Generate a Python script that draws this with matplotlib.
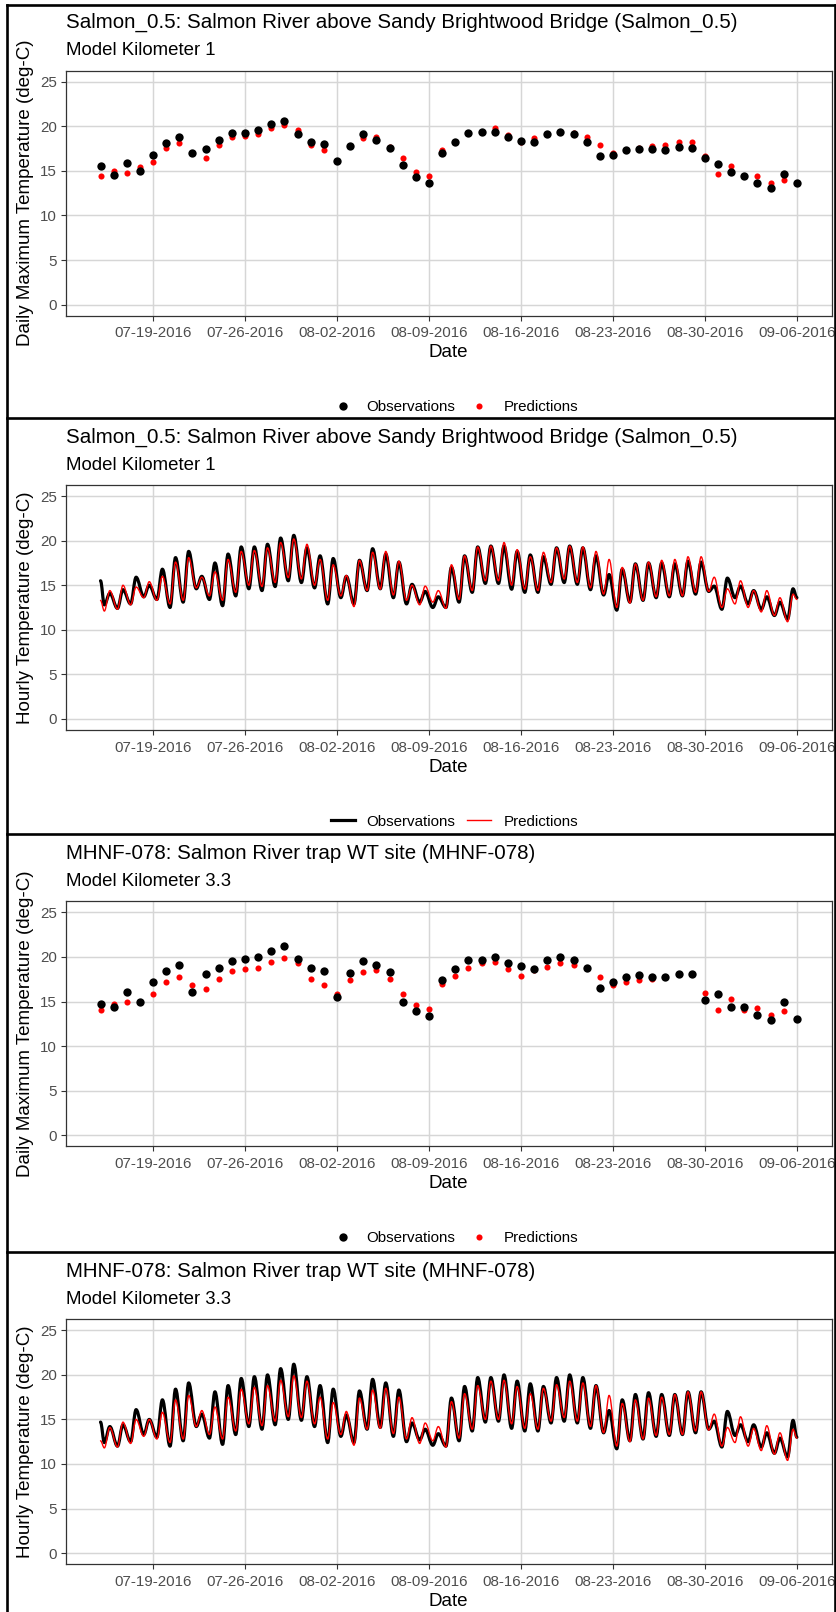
import numpy as np
import pandas as pd
import matplotlib
matplotlib.use("Agg")
import matplotlib.pyplot as plt
import matplotlib.dates as mdates
from matplotlib.path import Path
from matplotlib.patches import PathPatch
from matplotlib.lines import Line2D

plt.rcParams['font.family'] = ['Liberation Sans', 'DejaVu Sans']

# ---------------------------------------------------------------- data
dates = pd.date_range('2016-07-15', '2016-09-06', freq='D')
tick_dates = pd.date_range('2016-07-19', '2016-09-06', freq='7D')
y_ticks = [0, 5, 10, 15, 20, 25]

site_a_title = "Salmon_0.5: Salmon River above Sandy Brightwood Bridge (Salmon_0.5)"
site_a_sub = "Model Kilometer 1"
site_b_title = "MHNF-078: Salmon River trap WT site (MHNF-078)"
site_b_sub = "Model Kilometer 3.3"

# daily maximum temperature, Salmon_0.5
a_daily_obs = [15.5, 14.5, 15.9, 15.0, 16.8, 18.1, 18.8, 17.0, 17.5, 18.5,
               19.3, 19.3, 19.6, 20.3, 20.6, 19.2, 18.3, 18.0, 16.1, 17.8,
               19.1, 18.5, 17.6, 15.7, 14.3, 13.7, 17.0, 18.3, 19.3, 19.4,
               19.4, 18.8, 18.4, 18.2, 19.2, 19.4, 19.2, 18.3, 16.7, 16.8,
               17.4, 17.5, 17.5, 17.4, 17.7, 17.6, 16.4, 15.8, 14.9, 14.4,
               13.7, 13.1, 14.6, 13.6]
a_daily_pred = [14.4, 15.0, 14.8, 15.4, 16.0, 17.6, 18.1, 17.0, 16.5, 17.9,
                18.8, 18.9, 19.2, 19.8, 20.2, 19.6, 17.9, 17.3, 16.1, 17.8,
                18.7, 18.8, 17.7, 16.4, 14.9, 14.4, 17.3, 18.3, 19.3, 19.4,
                19.8, 19.0, 18.2, 18.7, 19.2, 19.4, 19.3, 18.8, 17.9, 17.0,
                17.4, 17.6, 17.8, 17.9, 18.2, 18.2, 16.7, 14.6, 15.5, 14.4,
                14.4, 13.6, 14.0, 13.6]

# daily maximum temperature, MHNF-078
b_daily_obs = [14.7, 14.4, 16.1, 15.0, 17.2, 18.4, 19.1, 16.1, 18.1, 18.8,
               19.6, 19.8, 20.0, 20.7, 21.2, 19.8, 18.8, 18.4, 15.5, 18.2,
               19.5, 19.1, 18.3, 14.9, 13.9, 13.4, 17.4, 18.7, 19.7, 19.7,
               20.0, 19.3, 19.0, 18.7, 19.7, 20.0, 19.7, 18.8, 16.5, 17.2,
               17.8, 18.0, 17.8, 17.8, 18.1, 18.1, 15.2, 15.9, 14.4, 14.4,
               13.5, 12.9, 14.9, 13.0]
b_daily_pred = [14.1, 14.7, 15.0, 15.0, 15.8, 17.2, 17.7, 16.8, 16.4, 17.5,
                18.4, 18.6, 18.8, 19.4, 19.9, 19.3, 17.5, 16.9, 15.9, 17.4,
                18.3, 18.5, 17.5, 15.9, 14.6, 14.2, 17.0, 17.9, 18.8, 19.3,
                19.4, 18.7, 17.9, 18.5, 18.9, 19.3, 19.1, 18.8, 17.7, 16.8,
                17.2, 17.4, 17.5, 17.8, 18.1, 18.1, 16.0, 14.1, 15.3, 14.0,
                14.3, 13.5, 13.9, 13.0]

# hourly record: value at the first midnight, morning low (07:00) and
# afternoon high (17:00) of each day 07-15 .. 09-05, value at the last midnight
TROUGH_HOUR, PEAK_HOUR = 7, 17

a_hr_obs_start, a_hr_obs_end = 15.5, 13.6
a_hr_obs_low = [12.8, 12.4, 12.9, 13.7, 13.4, 12.5, 13.1, 14.6, 13.4, 12.7,
                13.8, 14.6, 14.4, 14.85, 15.5, 15.3, 14.7, 12.9, 13.6, 12.9,
                14.4, 14.6, 13.6, 12.9, 13.1, 12.5, 12.5, 13.1, 14.2, 15.2,
                15.2, 14.55, 14.2, 14.2, 15.1, 15.3, 15.1, 14.5, 13.9, 12.2,
                13.1, 13.3, 13.6, 13.7, 13.8, 14.0, 14.3, 12.3, 13.6, 12.9,
                12.3, 11.6, 11.2]
a_hr_obs_high = [14.1, 14.5, 15.9, 15.0, 16.8, 18.1, 18.8, 16.0, 17.5, 18.5,
                 19.3, 19.3, 19.6, 20.3, 20.6, 19.2, 18.3, 18.0, 16.0, 17.8,
                 19.1, 18.5, 17.6, 15.1, 14.3, 13.7, 17.0, 18.3, 19.3, 19.4,
                 19.4, 18.8, 18.4, 18.2, 19.2, 19.4, 19.2, 18.3, 16.2, 16.8,
                 17.4, 17.5, 17.5, 17.4, 17.7, 17.6, 14.9, 15.8, 14.9, 14.4,
                 13.7, 13.1, 14.6]
a_hr_pred_start, a_hr_pred_end = 13.3, 13.4
a_hr_pred_low = [12.1, 12.3, 12.8, 13.6, 13.3, 12.9, 13.3, 14.7, 13.8, 13.3,
                 14.2, 15.0, 14.85, 15.3, 15.85, 15.7, 15.0, 13.3, 13.8, 12.6,
                 14.4, 14.55, 13.9, 13.3, 12.8, 13.1, 12.4, 13.4, 14.4, 15.5,
                 15.5, 15.0, 14.55, 14.4, 15.3, 15.7, 15.3, 14.7, 14.0, 12.5,
                 13.0, 13.3, 13.7, 13.8, 13.8, 14.2, 14.3, 12.5, 12.9, 12.5,
                 12.0, 11.6, 10.9]
a_hr_pred_high = [14.4, 15.0, 14.8, 15.4, 16.0, 17.6, 18.1, 15.9, 16.5, 17.9,
                  18.8, 18.9, 19.2, 19.8, 20.2, 19.6, 17.9, 17.3, 16.1, 17.8,
                  18.7, 18.8, 17.7, 15.0, 14.9, 14.4, 17.3, 18.3, 19.3, 19.4,
                  19.8, 19.0, 18.2, 18.7, 19.2, 19.4, 19.3, 18.8, 17.9, 17.0,
                  17.4, 17.6, 17.8, 17.9, 18.2, 18.2, 15.9, 14.6, 15.5, 14.4,
                  14.4, 13.6, 14.0]

b_hr_obs_start, b_hr_obs_end = 14.7, 13.0
b_hr_obs_low = [12.4, 12.0, 12.5, 13.3, 13.0, 12.0, 12.6, 14.2, 12.9, 12.2,
                13.3, 14.2, 13.9, 14.4, 15.0, 14.9, 14.2, 12.4, 13.1, 12.4,
                13.9, 14.1, 13.1, 12.5, 12.7, 12.1, 12.0, 12.6, 13.7, 14.7,
                14.8, 14.0, 13.7, 13.7, 14.6, 14.8, 14.6, 14.0, 13.5, 11.7,
                12.6, 12.8, 13.1, 13.2, 13.3, 13.5, 13.9, 11.9, 13.2, 12.5,
                11.9, 11.2, 10.8]
b_hr_obs_high = [14.2, 14.4, 16.1, 15.0, 17.2, 18.4, 19.1, 15.6, 18.1, 18.8,
                 19.6, 19.8, 20.0, 20.7, 21.2, 19.8, 18.8, 18.4, 15.5, 18.2,
                 19.5, 19.1, 18.3, 14.6, 13.9, 13.4, 17.4, 18.7, 19.7, 19.7,
                 20.0, 19.3, 19.0, 18.7, 19.7, 20.0, 19.7, 18.8, 16.0, 17.2,
                 17.8, 18.0, 17.8, 17.8, 18.1, 18.1, 14.8, 15.9, 14.4, 14.4,
                 13.5, 12.9, 14.9]
b_hr_pred_start, b_hr_pred_end = 12.6, 12.9
b_hr_pred_low = [11.8, 11.9, 12.3, 13.1, 12.8, 12.4, 12.8, 14.2, 13.3, 12.8,
                 13.7, 14.5, 14.3, 14.8, 15.3, 15.2, 14.5, 12.8, 13.3, 12.1,
                 13.9, 14.0, 13.4, 12.8, 12.3, 12.6, 11.9, 12.9, 13.9, 15.0,
                 15.0, 14.5, 14.0, 13.9, 14.8, 15.2, 14.8, 14.2, 13.5, 12.0,
                 12.5, 12.8, 13.2, 13.3, 13.3, 13.7, 13.8, 12.0, 12.4, 12.0,
                 11.5, 11.1, 10.4]
b_hr_pred_high = [14.1, 14.7, 15.0, 15.0, 15.8, 17.2, 17.7, 16.0, 16.4, 17.5,
                  18.4, 18.6, 18.8, 19.4, 19.9, 19.3, 17.5, 16.9, 15.9, 17.4,
                  18.3, 18.5, 17.5, 15.2, 14.6, 14.2, 17.0, 17.9, 18.8, 19.3,
                  19.4, 18.7, 17.9, 18.5, 18.9, 19.3, 19.1, 18.8, 17.7, 16.8,
                  17.2, 17.4, 17.5, 17.8, 18.1, 18.1, 15.6, 14.1, 15.3, 14.0,
                  14.3, 13.5, 13.9]

# ---------------------------------------------------------------- layout
W, H = 837, 1612
fig = plt.figure(figsize=(W / 100, H / 100), dpi=100)
fig.patch.set_facecolor('white')


def fx(px):
    return px / W


def fy(py):
    return 1 - py / H


PLOT_LEFT, PLOT_RIGHT, PLOT_H = 65.7, 831.7, 245.0
panel_tops = [70.7, 485.0, 901.3, 1319.2]
frame_rows = [5.0, 418.3, 834.0, 1251.7]
GRID = '#D6D6D6'
AXC = '#333333'
TICKC = '#4D4D4D'


def hourly_path(start_value, lows, highs, end_value):
    """Smooth hourly trace through the daily lows and highs (cubic Bezier)."""
    times = [dates[0]]
    vals = [start_value]
    for d, lo, hi in zip(dates[:-1], lows, highs):
        times += [d + pd.Timedelta(hours=TROUGH_HOUR), d + pd.Timedelta(hours=PEAK_HOUR)]
        vals += [lo, hi]
    times.append(dates[-1])
    vals.append(end_value)
    x = mdates.date2num(pd.DatetimeIndex(times).to_pydatetime())
    verts = [(x[0], vals[0])]
    codes = [Path.MOVETO]
    k = 0.36
    for i in range(len(x) - 1):
        dx = x[i + 1] - x[i]
        verts += [(x[i] + k * dx, vals[i]), (x[i + 1] - k * dx, vals[i + 1]),
                  (x[i + 1], vals[i + 1])]
        codes += [Path.CURVE4] * 3
    return Path(verts, codes)


def style_axes(ax):
    x0 = mdates.date2num(dates[0].to_pydatetime())
    x1 = mdates.date2num(dates[-1].to_pydatetime())
    span = x1 - x0
    ax.set_xlim(x0 - 0.05 * span, x1 + 0.05 * span)
    ax.set_ylim(-1.25, 26.25)
    ax.set_yticks(y_ticks)
    ax.set_xticks(mdates.date2num(tick_dates.to_pydatetime()))
    ax.xaxis.set_major_formatter(mdates.DateFormatter('%m-%d-%Y'))
    ax.grid(True, color=GRID, lw=1.05)
    ax.set_axisbelow(True)
    for s in ax.spines.values():
        s.set_color(AXC)
        s.set_linewidth(0.9)
    ax.tick_params(axis='both', length=3.6, width=0.8, color=AXC,
                   labelsize=10.9, labelcolor=TICKC)
    ax.tick_params(axis='x', pad=4.0)
    ax.tick_params(axis='y', pad=2.9)


panels = [
    dict(title=site_a_title, sub=site_a_sub, kind='daily',
         ylabel='Daily Maximum Temperature (deg-C)',
         obs=a_daily_obs, pred=a_daily_pred),
    dict(title=site_a_title, sub=site_a_sub, kind='hourly',
         ylabel='Hourly Temperature (deg-C)',
         obs=(a_hr_obs_start, a_hr_obs_low, a_hr_obs_high, a_hr_obs_end),
         pred=(a_hr_pred_start, a_hr_pred_low, a_hr_pred_high, a_hr_pred_end)),
    dict(title=site_b_title, sub=site_b_sub, kind='daily',
         ylabel='Daily Maximum Temperature (deg-C)',
         obs=b_daily_obs, pred=b_daily_pred),
    dict(title=site_b_title, sub=site_b_sub, kind='hourly',
         ylabel='Hourly Temperature (deg-C)',
         obs=(b_hr_obs_start, b_hr_obs_low, b_hr_obs_high, b_hr_obs_end),
         pred=(b_hr_pred_start, b_hr_pred_low, b_hr_pred_high, b_hr_pred_end)),
]

for top, p in zip(panel_tops, panels):
    ax = fig.add_axes([fx(PLOT_LEFT), fy(top + PLOT_H),
                       fx(PLOT_RIGHT) - fx(PLOT_LEFT), PLOT_H / H])
    style_axes(ax)
    if p['kind'] == 'daily':
        ax.plot(dates, p['pred'], 'o', color='#FF0000', ms=4.4, mew=0, zorder=3)
        ax.plot(dates, p['obs'], 'o', color='black', ms=6.0, mew=0, zorder=4)
    else:
        ax.add_patch(PathPatch(hourly_path(*p['obs']), facecolor='none',
                               edgecolor='black', lw=2.3, zorder=3,
                               capstyle='round', joinstyle='round'))
        ax.add_patch(PathPatch(hourly_path(*p['pred']), facecolor='none',
                               edgecolor='#FF0000', lw=1.0, zorder=4,
                               capstyle='round', joinstyle='round'))

    fig.text(fx(PLOT_LEFT), fy(top - 42.5), p['title'], fontsize=14.8,
             ha='left', va='baseline', color='black')
    fig.text(fx(PLOT_LEFT), fy(top - 15.5), p['sub'], fontsize=13.4,
             ha='left', va='baseline', color='black')
    fig.text(fx(26), fy(top + PLOT_H / 2), p['ylabel'], fontsize=13.5,
             rotation=90, ha='center', va='center', color='black')
    fig.text(fx((PLOT_LEFT + PLOT_RIGHT) / 2), fy(top + 286.6), 'Date',
             fontsize=13.5, ha='center', va='baseline', color='black')

    # legend below the axis title
    ly = top + 335.3
    if ly < H - 8:
        if p['kind'] == 'daily':
            fig.add_artist(Line2D([fx(342.7)], [fy(ly)], marker='o', ms=6.0,
                                  mew=0, color='black', transform=fig.transFigure))
            fig.add_artist(Line2D([fx(479.0)], [fy(ly)], marker='o', ms=4.4,
                                  mew=0, color='#FF0000', transform=fig.transFigure))
        else:
            fig.add_artist(Line2D([fx(331), fx(355)], [fy(ly), fy(ly)], lw=2.3,
                                  color='black', transform=fig.transFigure))
            fig.add_artist(Line2D([fx(467), fx(491)], [fy(ly), fy(ly)], lw=1.0,
                                  color='#FF0000', transform=fig.transFigure))
        fig.text(fx(366.7), fy(ly + 5.4), 'Observations', fontsize=10.9,
                 ha='left', va='baseline', color='black')
        fig.text(fx(504.0), fy(ly + 5.4), 'Predictions', fontsize=10.9,
                 ha='left', va='baseline', color='black')

# panel frames
FRAME_LW = 1.9
for yrow in frame_rows:
    fig.add_artist(Line2D([fx(6.7), fx(835.3)], [fy(yrow), fy(yrow)],
                          lw=FRAME_LW, color='black', transform=fig.transFigure))
for xcol in (6.7, 835.3):
    fig.add_artist(Line2D([fx(xcol), fx(xcol)], [fy(frame_rows[0]), fy(H)],
                          lw=FRAME_LW, color='black', transform=fig.transFigure))

fig.savefig('out.png', dpi=100, facecolor='white')
